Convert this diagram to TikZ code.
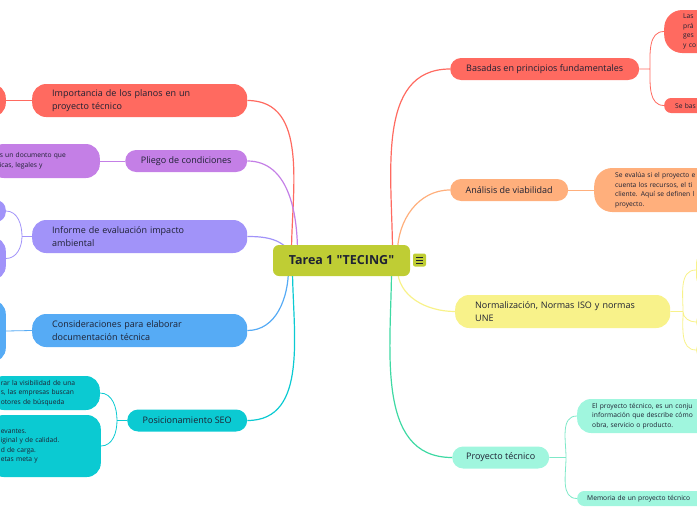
\documentclass[tikz,border=0pt]{standalone}
\usepackage{fontspec}
\setmainfont{Open Sans}[Ligatures=TeXOff]
\usetikzlibrary{backgrounds}
\definecolor{ink}{HTML}{1E2133}
\definecolor{cred}{HTML}{FF6A60}
\definecolor{cpurple}{HTML}{C47FE6}
\definecolor{clav}{HTML}{A193F9}
\definecolor{cblue}{HTML}{56ABF5}
\definecolor{ccyan}{HTML}{0BCAD2}
\definecolor{corange}{HTML}{FFAF7C}
\definecolor{cyellow}{HTML}{F8F28A}
\definecolor{cmint}{HTML}{A0F6DE}
\definecolor{cmintline}{HTML}{3ED9A3}
\definecolor{cminttwig}{HTML}{7FE8C8}
\definecolor{colive}{HTML}{BFCD34}
\begin{document}
\begin{tikzpicture}[x=1pt,y=-1pt,
    topic/.style={rounded corners=11pt, inner ysep=0pt, minimum height=22pt,
      font=\fontsize{9}{13}\selectfont, text=ink, anchor=west},
    wide/.style={topic, minimum height=33pt, rounded corners=14pt, align=left,
      inner xsep=20pt, text width=175pt},
    leaf/.style={rounded corners=14pt, inner ysep=0pt, inner xsep=0pt,
      font=\fontsize{6.7}{9.5}\selectfont, text=ink, align=left},
    link/.style={line width=1.2pt},
    twig/.style={line width=0.8pt}]
  \useasboundingbox (0,0) rectangle (697,520);
  \clip (0,0) rectangle (697,520);

  % central topic
  \node[rounded corners=6pt, fill=colive, minimum width=137pt, minimum height=31pt,
    font=\fontsize{12.5}{14}\selectfont\bfseries, text=ink] (tarea) at (341.5,260.5) {Tarea 1 "TECING"};
  \node[rounded corners=2pt, fill=colive, minimum size=13pt, inner sep=0pt] (icon) at (419.5,260) {};
  \foreach \dy in {-3,0,3}
    \draw[ink, line width=0.8pt] ([xshift=-3.5pt,yshift=\dy pt]icon.center) -- ([xshift=3.5pt,yshift=\dy pt]icon.center);

  % left side
  \node[wide, fill=cred] (planos) at (32,100.5) {Importancia de los planos en un\\proyecto técnico};
  \node[topic, fill=cpurple, minimum width=122pt] (pliego) at (125,161) {Pliego de condiciones};
  \node[wide, fill=clav] (informe) at (32,236.5) {Informe de evaluación impacto\\ambiental};
  \node[wide, fill=cblue] (consid) at (32,330.5) {Consideraciones para elaborar\\documentación técnica};
  \node[topic, fill=ccyan, minimum width=120pt] (seo) at (127,420.5) {Posicionamiento SEO};

  % right side
  \node[topic, fill=cred, minimum width=189pt] (basadas) at (450,69) {Basadas en principios fundamentales};
  \node[topic, fill=corange, minimum width=118pt] (analisis) at (450,190) {Análisis de viabilidad};
  \node[wide, fill=cyellow] (normas) at (455,311.5) {Normalización, Normas ISO y normas\\UNE};
  \node[topic, fill=cmint, minimum width=97pt] (proyecto) at (452,457.5) {Proyecto técnico};

  % leaves, left
  \node[leaf, fill=cred, anchor=east, minimum width=60pt, minimum height=33pt] (planosA) at (6,100.5) {};
  \node[leaf, fill=cpurple, anchor=east, minimum height=34pt, text width=90pt, inner xsep=10pt] (pliegoA) at (100,161) {s un documento que\\icas, legales y};
  \node[leaf, fill=clav, anchor=east, minimum width=40pt, minimum height=22pt, rounded corners=10pt] (informeA) at (6,211) {};
  \node[leaf, fill=clav, anchor=east, minimum width=40pt, minimum height=43pt] (informeB) at (6,258.5) {};
  \node[leaf, fill=cblue, anchor=east, minimum width=40pt, minimum height=62pt] (considA) at (6,331) {};
  \node[leaf, fill=ccyan, anchor=east, minimum height=34pt, text width=88pt, inner xsep=11pt] (seoA) at (100,393) {rar la visibilidad de una\\s, las empresas buscan\\otores de búsqueda};
  \node[leaf, fill=ccyan, anchor=east, minimum height=62pt, text width=89pt, inner xsep=11pt] (seoB) at (101,446) {evantes.\\iginal y de calidad.\\d de carga.\\etas meta y};

  % leaves, right
  \node[leaf, fill=cred, anchor=west, minimum height=43pt, text width=50pt, inner xsep=19pt, rounded corners=18pt] (basadasA) at (664,31.5) {Las\\prá\\ges\\y co};
  \node[leaf, fill=cred, anchor=west, minimum height=15pt, text width=50pt, inner xsep=11pt, rounded corners=7pt] (basadasB) at (664,105.5) {Se bas};
  \node[leaf, fill=corange, anchor=west, minimum height=44pt, text width=120pt, inner xsep=21pt, rounded corners=18pt] (analisisA) at (594,190) {Se evalúa si el proyecto e\\cuenta los recursos, el ti\\cliente. Aquí se definen l\\proyecto.};
  \foreach \n/\y/\h in {A/270/30, B/322/15, C/350/15}
    \node[leaf, fill=cyellow, anchor=west, minimum width=40pt, minimum height=\h pt, rounded corners=7pt] (normas\n) at (696,\y) {};
  \node[leaf, fill=cmint, anchor=west, minimum height=34pt, text width=130pt, inner xsep=15pt] (proyectoA) at (577,416) {El proyecto técnico, es un conju\\información que describe cómo\\obra, servicio o producto.};
  \node[leaf, fill=cmint, anchor=west, minimum height=15pt, text width=130pt, inner xsep=10pt, rounded corners=7pt] (proyectoB) at (577,498.5) {Memoria de un proyecto técnico};

  % split points
  \coordinate (informeS) at (22,236.5);
  \coordinate (seoS) at (117,420.5);
  \coordinate (basadasS) at (650,69);
  \coordinate (normasS) at (683,311.5);
  \coordinate (proyectoS) at (566,457.5);

  \begin{scope}[on background layer]
    % branches from the centre
    \draw[link, cred] (tarea.center) ++(-50,-8) to[out=90,in=0] (planos.east);
    \draw[link, cpurple] (tarea.center) ++(-44,-8) to[out=90,in=0] (pliego.east);
    \draw[link, clav] (tarea.center) ++(-49,-5) to[out=120,in=0] (informe.east);
    \draw[link, cblue] (tarea.center) ++(-53,8) to[out=-90,in=0] (consid.east);
    \draw[link, ccyan] (tarea.center) ++(-49,8) to[out=-90,in=0] (seo.east);
    \draw[link, cred] (tarea.center) ++(51,-8) to[out=90,in=180] (basadas.west);
    \draw[link, corange] (tarea.center) ++(56,-8) to[out=90,in=180] (analisis.west);
    \draw[link, cyellow] (tarea.center) ++(56,8) to[out=-90,in=180] (normas.west);
    \draw[link, cmintline] (tarea.center) ++(50,8) to[out=-90,in=180] (proyecto.west);
    % twigs to the leaves
    \draw[twig, cred] (planos.west) -- (planosA.east);
    \draw[twig, cpurple] (pliego.west) -- (pliegoA.east);
    \draw[twig, clav] (informe.west) -- (informeS) to[out=90,in=0] (informeA.east)
      (informeS) to[out=-90,in=0] (informeB.east);
    \draw[twig, cblue] (consid.west) -- (considA.east);
    \draw[twig, ccyan] (seo.west) -- (seoS) to[out=90,in=0] (seoA.east)
      (seoS) to[out=-90,in=0] (seoB.east);
    \draw[twig, cred] (basadas.east) -- (basadasS) to[out=90,in=180] (basadasA.west)
      (basadasS) to[out=-90,in=180] (basadasB.west);
    \draw[twig, corange] (analisis.east) -- (analisisA.west);
    \draw[twig, cyellow] (normas.east) -- (normasS) to[out=90,in=180] (normasA.west)
      (normasS) to[out=-90,in=180] (normasB.west)
      (normasS) to[out=-90,in=180] (normasC.west);
    \draw[twig, cminttwig] (proyecto.east) -- (proyectoS) to[out=90,in=180] (proyectoA.west)
      (proyectoS) to[out=-90,in=180] (proyectoB.west);
  \end{scope}
\end{tikzpicture}
\end{document}
